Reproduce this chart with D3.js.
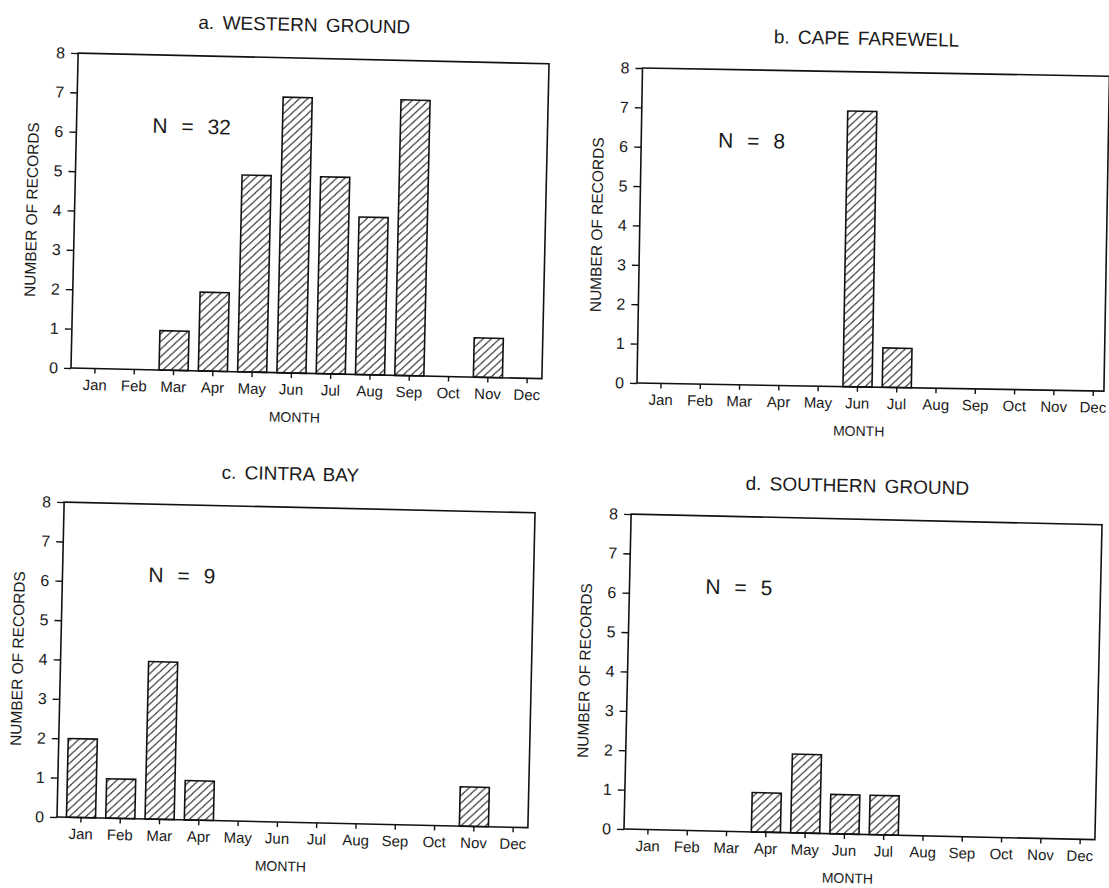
<!DOCTYPE html>
<html>
<head>
<meta charset="utf-8">
<script src="https://cdn.jsdelivr.net/npm/d3@7"></script>
<style>
    body { margin: 0; background: #fff; }
    text { font-family: "Liberation Sans", Arial, sans-serif; fill: #1a1a1a; }
</style>
</head>
<body>
<div class="records-chart"></div>
<script>
"use strict";

const months = ["Jan", "Feb", "Mar", "Apr", "May", "Jun", "Jul", "Aug", "Sep", "Oct", "Nov", "Dec"];
const y_ticks = [0, 1, 2, 3, 4, 5, 6, 7, 8];
const panel_titles = ["a. WESTERN GROUND", "b. CAPE FAREWELL", "c. CINTRA BAY", "d. SOUTHERN GROUND"];
const western_ground = [0, 0, 1, 2, 5, 7, 5, 4, 7, 0, 1, 0];
const cape_farewell = [0, 0, 0, 0, 0, 7, 1, 0, 0, 0, 0, 0];
const cintra_bay = [2, 1, 4, 1, 0, 0, 0, 0, 0, 0, 1, 0];
const southern_ground = [0, 0, 0, 1, 2, 1, 1, 0, 0, 0, 0, 0];
const sample_sizes = [32, 8, 9, 5];

// where each (slightly skewed, scanned) panel sits on the page
const layout = [
    { x0: 71, y0: 368, angle: 1.3, width: 471, n_x: 76 },
    { x0: 637, y0: 383, angle: 1.0, width: 467, n_x: 77 },
    { x0: 57, y0: 817, angle: 1.3, width: 471, n_x: 86 },
    { x0: 624, y0: 829, angle: 1.3, width: 471, n_x: 76 }
];
const series = [western_ground, cape_farewell, cintra_bay, southern_ground];

const plot_height = 315;
const step = 39.3;
const first_center = 24;

window.onload = () => main();

function main() {
    const svg = d3.select(".records-chart")
        .append("svg")
        .attr("width", 1109)
        .attr("height", 888);

    svg.append("defs")
        .append("pattern")
        .attr("id", "hatch")
        .attr("patternUnits", "userSpaceOnUse")
        .attr("width", 8)
        .attr("height", 9)
        .attr("patternTransform", "skewX(-8)")
        .append("path")
        .attr("d", "M-1,1.125 l2,-2.25 M0,9 l8,-9 M7,10.125 l2,-2.25")
        .attr("stroke", "#222")
        .attr("stroke-width", 1.1);

    layout.forEach((config, i) => draw_panel(svg, config, series[i], panel_titles[i], sample_sizes[i]));
}

function draw_panel(svg, config, values, title, n) {
    const w = config.width;
    const h = plot_height;

    const g = svg.append("g")
        .attr("transform", `translate(${config.x0},${config.y0}) rotate(${config.angle}) translate(0,${-h})`);

    const x = d3.scaleBand()
        .domain(months)
        .range([first_center - step / 2, first_center - step / 2 + 12 * step])
        .paddingInner(0.26)
        .paddingOuter(0.13);

    const y = d3.scaleLinear()
        .domain([0, 8])
        .range([h, 0]);

    // bars
    g.selectAll("rect.bar")
        .data(months.map((m, i) => ({ month: m, value: values[i] })).filter(d => d.value > 0))
        .enter()
        .append("rect")
        .attr("class", "bar")
        .attr("x", d => x(d.month))
        .attr("y", d => y(d.value))
        .attr("width", x.bandwidth())
        .attr("height", d => y(0) - y(d.value))
        .attr("fill", "url(#hatch)")
        .attr("stroke", "#111")
        .attr("stroke-width", 1.6);

    // frame
    g.append("rect")
        .attr("x", 0)
        .attr("y", 0)
        .attr("width", w)
        .attr("height", h)
        .attr("fill", "none")
        .attr("stroke", "#111")
        .attr("stroke-width", 1.6);

    const y_axis = g.append("g")
        .call(d3.axisLeft(y).tickValues(y_ticks).tickSize(7).tickPadding(6).tickFormat(d3.format("d")));
    y_axis.select(".domain").remove();
    y_axis.selectAll("line").attr("stroke", "#111").attr("stroke-width", 1.4);
    y_axis.selectAll("text").style("font-size", "16px").attr("fill", "#1a1a1a");

    const x_axis = g.append("g")
        .attr("transform", `translate(0,${h})`)
        .call(d3.axisBottom(x).tickSize(5).tickPadding(6));
    x_axis.select(".domain").remove();
    x_axis.selectAll("line").attr("stroke", "#111").attr("stroke-width", 1.4);
    x_axis.selectAll("text").style("font-size", "15px").attr("fill", "#1a1a1a");

    g.append("text")
        .attr("x", w / 2 - 10)
        .attr("y", -27)
        .attr("text-anchor", "middle")
        .style("font-size", "19px")
        .style("word-spacing", "3px")
        .text(title);

    g.append("text")
        .attr("x", w / 2 - 11)
        .attr("y", h + 49)
        .attr("text-anchor", "middle")
        .style("font-size", "14px")
        .text("MONTH");

    g.append("text")
        .attr("transform", `translate(-43,${h / 2}) rotate(-90)`)
        .attr("text-anchor", "middle")
        .attr("dominant-baseline", "central")
        .style("font-size", "15.5px")
        .text("NUMBER OF RECORDS");

    g.append("text")
        .attr("x", config.n_x)
        .attr("y", h - 237)
        .style("font-size", "21px")
        .style("word-spacing", "8px")
        .text(`N = ${n}`);
}
</script>
</body>
</html>
